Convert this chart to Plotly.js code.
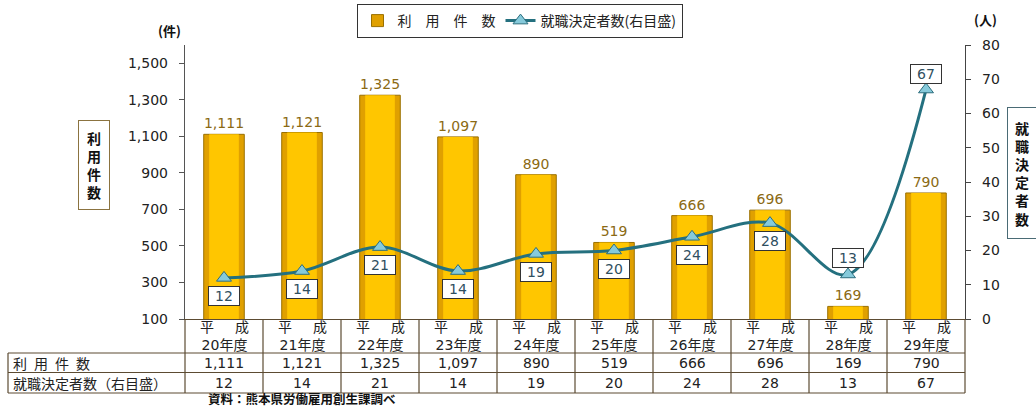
<!DOCTYPE html>
<html>
<head>
<meta charset="utf-8">
<script src="https://cdn.plot.ly/plotly-3.0.1.min.js"></script>
<style>html,body{margin:0;padding:0;background:#fff;}#chart{width:1036px;height:407px;}</style>
</head>
<body>
<div id="chart"></div>
<script>
// ---- data ----
const categories = ['平成20年度','平成21年度','平成22年度','平成23年度','平成24年度','平成25年度','平成26年度','平成27年度','平成28年度','平成29年度'];
const usage = [1111, 1121, 1325, 1097, 890, 519, 666, 696, 169, 790];
const hires = [12, 14, 21, 14, 19, 20, 24, 28, 13, 67];
const seriesNames = ['利\u3000用\u3000件\u3000数', '就職決定者数(右目盛)'];
const rowLabels = ['利\u2002用\u2002件\u2002数', '就職決定者数（右目盛）'];
const leftTicks = [100, 300, 500, 700, 900, 1100, 1300, 1500];
const rightTicks = [0, 10, 20, 30, 40, 50, 60, 70, 80];
const sourceText = '資料：熊本県労働雇用創生課調べ';

// ---- layout helpers ----
const W = 1036, H = 407;
const M = {l: 185, r: 71, t: 45, b: 88, autoexpand: false};
const plotH = H - M.t - M.b, plotW = W - M.l - M.r;
const py = px => (H - M.b - px) / plotH;     // pixel row -> paper y
const pxx = px => (px - M.l) / plotW;        // pixel col -> paper x
const fmt = v => v.toLocaleString('en-US');
const NUMFONT = 'DejaVu Sans, Noto Sans CJK JP, sans-serif';
const CJKFONT = 'Noto Sans CJK JP, DejaVu Sans, sans-serif';
const gridColor = '#5c4b32';

const traces = [
  {
    type: 'bar', x: categories, y: usage, yaxis: 'y', name: seriesNames[0],
    width: 0.52, showlegend: true, hoverinfo: 'skip',
    marker: {color: '#E0A000', line: {color: '#9A7000', width: 1}}
  },
  {
    type: 'bar', x: categories, y: usage, yaxis: 'y', showlegend: false,
    width: 0.38, hoverinfo: 'skip',
    marker: {color: '#FFC600'},
    text: usage.map(fmt), textposition: 'outside', cliponaxis: false, constraintext: 'none',
    textfont: {family: NUMFONT, size: 14, color: '#8B6A14'}
  },
  {
    type: 'scatter', x: categories, y: hires, yaxis: 'y2', name: seriesNames[1],
    mode: 'lines+markers',
    line: {color: '#24707F', width: 3, shape: 'spline', smoothing: 1},
    marker: {symbol: 'triangle-up', size: 13, color: '#86CADB', line: {color: '#2C6E7E', width: 1}}
  }
];

const annotations = [];
const shapes = [];
const ann = o => annotations.push(Object.assign({showarrow: false, xanchor: 'center', yanchor: 'middle'}, o));

// value labels for the line (boxed)
const aboveIdx = new Set([8, 9]);
hires.forEach((v, i) => {
  const above = aboveIdx.has(i);
  ann({
    x: categories[i], y: v, xref: 'x', yref: 'y2', text: String(v),
    yshift: above ? 16 : -18, bgcolor: '#fff', bordercolor: '#333', borderwidth: 1,
    borderpad: 1, width: 28, height: 16,
    font: {family: NUMFONT, size: 14, color: '#2F4F5F'}
  });
});

// table: header row + value rows
categories.forEach((c, i) => {
  ann({
    x: c, xref: 'x', y: py(336), yref: 'paper',
    text: c.slice(0, 1) + '\u3000\u2002' + c.slice(1, 2) + '<br>' + c.slice(2),
    font: {family: NUMFONT, size: 14, color: '#222'}
  });
  ann({x: c, xref: 'x', y: py(362.5), yref: 'paper', text: fmt(usage[i]),
    font: {family: NUMFONT, size: 14, color: '#222'}});
  ann({x: c, xref: 'x', y: py(382.5), yref: 'paper', text: String(hires[i]),
    font: {family: NUMFONT, size: 14, color: '#222'}});
});
ann({x: pxx(11), xref: 'paper', xanchor: 'left', y: py(362.5), yref: 'paper',
  text: rowLabels[0], font: {family: CJKFONT, size: 14, color: '#222'}});
ann({x: pxx(11), xref: 'paper', xanchor: 'left', y: py(382.5), yref: 'paper',
  text: rowLabels[1], font: {family: CJKFONT, size: 14, color: '#222'}});

// table grid
const tblLeft = pxx(8);
[353, 372.5, 393].forEach(r => shapes.push({type: 'line', xref: 'paper', yref: 'paper',
  x0: tblLeft, x1: 1, y0: py(r), y1: py(r), line: {color: gridColor, width: 1.2}}));
for (let i = 0; i <= categories.length; i++) {
  shapes.push({type: 'line', xref: 'paper', yref: 'paper', x0: i / categories.length, x1: i / categories.length,
    y0: 0, y1: py(393), line: {color: gridColor, width: 1.2}});
}
shapes.push({type: 'line', xref: 'paper', yref: 'paper', x0: tblLeft, x1: tblLeft, y0: py(353), y1: py(393),
  line: {color: gridColor, width: 1.2}});

// axis unit labels
ann({x: pxx(169), y: py(31), xref: 'paper', yref: 'paper', text: '(件)',
  font: {family: CJKFONT, size: 13, color: '#111', weight: 'bold'}});
ann({x: pxx(986), y: py(19), xref: 'paper', yref: 'paper', text: '(人)',
  font: {family: CJKFONT, size: 13, color: '#111', weight: 'bold'}});

// vertical axis-title boxes
ann({x: pxx(94), y: py(164.5), xref: 'paper', yref: 'paper',
  text: '利<br>用<br>件<br>数', width: 30, height: 88, borderpad: 0,
  bordercolor: '#8B7340', borderwidth: 1, bgcolor: '#fff',
  font: {family: CJKFONT, size: 14, color: '#111', weight: 'bold'}});
ann({x: pxx(1021.5), y: py(173), xref: 'paper', yref: 'paper',
  text: '就<br>職<br>決<br>定<br>者<br>数', width: 28, height: 130, borderpad: 0,
  bordercolor: '#4A6B75', borderwidth: 1, bgcolor: '#fff',
  font: {family: CJKFONT, size: 14, color: '#111', weight: 'bold'}});

// source
ann({x: pxx(302), y: py(398.5), xref: 'paper', yref: 'paper', text: sourceText,
  font: {family: CJKFONT, size: 12.5, color: '#111', weight: 'bold'}});

const layout = {
  width: W, height: H,
  margin: M,
  paper_bgcolor: '#fff', plot_bgcolor: '#fff',
  barmode: 'overlay',
  showlegend: true,
  legend: {
    orientation: 'h', x: pxx(519.5), xanchor: 'center', y: py(4), yanchor: 'top',
    bordercolor: '#333', borderwidth: 1, bgcolor: '#fff',
    font: {family: CJKFONT, size: 14, color: '#222'}, traceorder: 'normal'
  },
  xaxis: {
    type: 'category', range: [-0.5, categories.length - 0.5], showticklabels: false, ticks: '',
    showline: true, linecolor: gridColor, linewidth: 1.2, showgrid: false, zeroline: false, fixedrange: true
  },
  yaxis: {
    range: [100, 1600], tickvals: leftTicks, ticktext: leftTicks.map(fmt),
    showline: true, linecolor: '#555', linewidth: 1.2, ticks: 'outside', ticklen: 5, tickcolor: '#555',
    ticklabelstandoff: 8, showgrid: false, zeroline: false,
    tickfont: {family: NUMFONT, size: 14, color: '#222'}
  },
  yaxis2: {
    range: [0, 80], tickvals: rightTicks, overlaying: 'y', side: 'right',
    showline: true, linecolor: '#444', linewidth: 1.2, ticks: 'outside', ticklen: 5, tickcolor: '#444',
    ticklabelstandoff: 8, showgrid: false, zeroline: false,
    tickfont: {family: NUMFONT, size: 14, color: '#222'}
  },
  annotations: annotations,
  shapes: shapes
};

Plotly.newPlot('chart', traces, layout, {displayModeBar: false, staticPlot: true});
</script>
</body>
</html>
